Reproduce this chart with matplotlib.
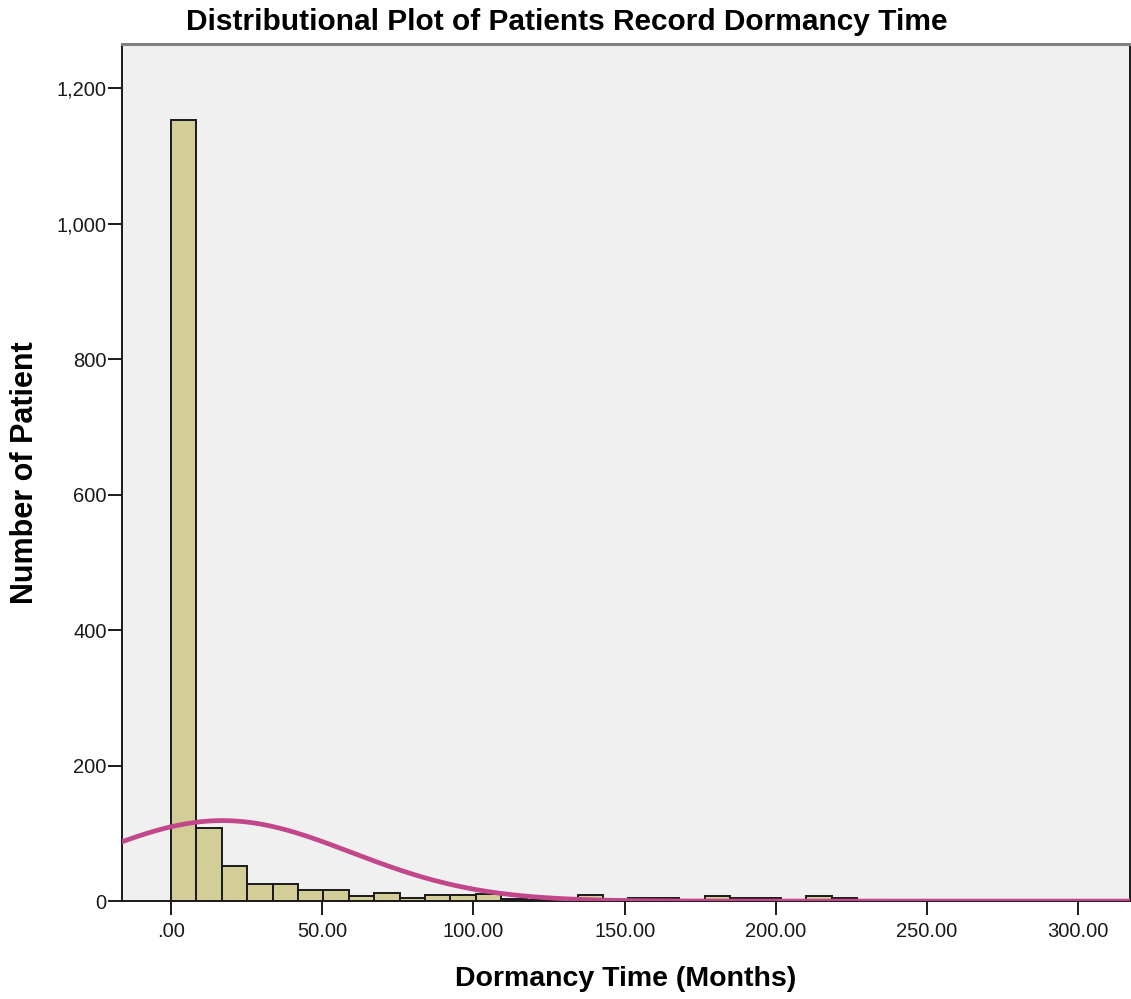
import numpy as np
import matplotlib.pyplot as plt
from matplotlib.ticker import FuncFormatter

plt.rcParams['font.family'] = ['Liberation Sans', 'DejaVu Sans']

# histogram of dormancy time, bins of 8.4 months starting at 0
bin_width = 8.4
bin_counts = [1153, 108, 52, 25, 25, 16, 16, 8, 12, 5, 9, 9, 10, 3, 1, 1,
              9, 2, 5, 5, 1, 8, 5, 5, 1, 8, 5]
bin_starts = [i * bin_width for i in range(len(bin_counts))]

# fitted normal curve parameters
fit_mean = 17.0
fit_sd = 42.5

x_ticks = [0, 50, 100, 150, 200, 250, 300]
y_ticks = [0, 200, 400, 600, 800, 1000, 1200]

fig = plt.figure(figsize=(11.31, 9.99), dpi=100)
ax = fig.add_axes([0.1079, 0.098, 0.891, 0.858])
ax.set_facecolor('#f0f0f0')

ax.bar(bin_starts, bin_counts, width=bin_width, align='edge',
       color='#d3ce98', edgecolor='#1a1a1a', linewidth=1.4, zorder=2)

xs = np.linspace(-20, 320, 600)
n_total = sum(bin_counts)
ys = n_total * bin_width / (fit_sd * np.sqrt(2 * np.pi)) * np.exp(-0.5 * ((xs - fit_mean) / fit_sd) ** 2)
ax.plot(xs, ys, color='#c2468a', linewidth=3.4, zorder=3)

ax.set_xlim(-16.2, 317)
ax.set_ylim(0, 1265)
ax.set_xticks(x_ticks)
ax.set_yticks(y_ticks)
ax.xaxis.set_major_formatter(FuncFormatter(lambda v, p: '.00' if v == 0 else f'{v:.2f}'))
ax.yaxis.set_major_formatter(FuncFormatter(lambda v, p: f'{int(v):,}'))
ax.tick_params(axis='both', direction='out', length=10, width=1.4, labelsize=14.5,
               colors='#1a1a1a')
ax.tick_params(axis='x', pad=5)
ax.tick_params(axis='y', pad=1)

for side in ['left', 'bottom', 'right']:
    ax.spines[side].set_color('#1a1a1a')
    ax.spines[side].set_linewidth(1.4)
ax.spines['top'].set_color('#808080')
ax.spines['top'].set_linewidth(2.2)

ax.set_xlabel('Dormancy Time (Months)', fontsize=20.5, fontweight='bold', labelpad=18)
ax.set_ylabel('Number of Patient', fontsize=22, fontweight='bold', labelpad=12)
fig.text(0.501, 0.978, 'Distributional Plot of Patients Record Dormancy Time',
         ha='center', va='center', fontsize=21.5, fontweight='bold')

fig.savefig('out.png', dpi=100)
